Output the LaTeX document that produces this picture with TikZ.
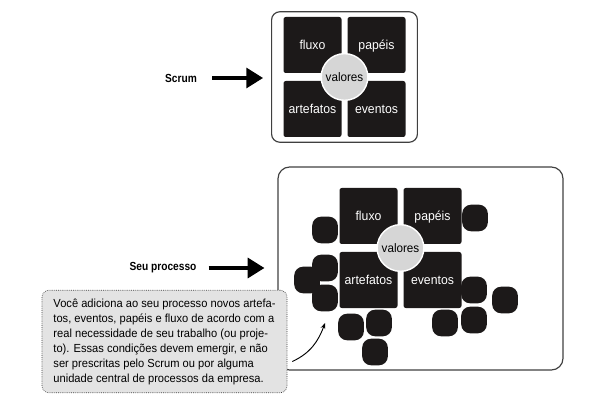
\documentclass[tikz,border=0pt]{standalone}
\usepackage{fontspec}
\setmainfont{Liberation Sans}[FakeStretch=0.95]
\newfontfamily\labfont{Liberation Sans}[FakeStretch=0.87]
\usepackage{tikz}
\usetikzlibrary{calc}
\usetikzlibrary{arrows.meta,shapes}
\usetikzlibrary{matrix,fit,positioning}
\usepackage{xcolor}
\definecolor{blobcol}{rgb}{0.11,0.10,0.10}
\definecolor{valcol}{rgb}{0.84,0.84,0.84}
\definecolor{notecol}{rgb}{0.89,0.89,0.89}
\definecolor{framecol}{rgb}{0.25,0.25,0.25}

\begin{document}
\begin{tikzpicture}
    [x=0.03cm,y=-0.03cm,
    sq/.style={fill=blobcol,text=white,rounded corners=2pt,anchor=center,
      minimum width=1.74cm,minimum height=1.68cm,inner sep=0pt,
      font=\fontsize{11}{13}\selectfont,text height=1.6ex,text depth=.3ex},
    val/.style={circle,fill=valcol,draw=white,line width=1.2pt,minimum size=1.4cm,
      inner sep=0pt,font=\fontsize{10.5}{12}\selectfont},
    blob/.style={fill=blobcol,rounded corners=0.27cm,minimum width=0.77cm,minimum height=0.8cm},
    frame/.style={draw=framecol,line width=1pt,rounded corners=7pt},
    lab/.style={font=\labfont\bfseries\fontsize{10}{12}\selectfont},
    bigarrow/.style={line width=2.6pt,-{Triangle[length=0.5cm,width=0.6cm]}},
    note/.style={fill=notecol,draw=framecol,densely dotted,line width=0.6pt,rounded corners=6pt,
      align=left,inner xsep=0.3cm,inner ysep=0.25cm,font=\fontsize{10}{12.8}\selectfont},
    notearrow/.style={line width=0.8pt,-{Stealth[length=5pt,width=4pt]}}]
  \useasboundingbox (0,0) rectangle (589,403);

  \matrix(S1) [matrix of nodes,nodes={sq},column sep=0.18cm,row sep=0.24cm,
    inner sep=0pt,ampersand replacement=\&] at (344.5,77) {
    fluxo \& papéis \\
    artefatos \& eventos \\
  };
  \node[val] (V1) at (S1.center) {valores};
  \node[frame,fit=(S1),inner xsep=0.35cm,inner ysep=0.15cm] (F1) {};
  \node[lab] (L1) at (181,78) {Scrum};
  \draw[bigarrow,shorten <=0.33cm,shorten >=0.24cm] (L1) -- (L1 -| F1.west);

  \node[frame,rounded corners=10pt,minimum width=8.55cm,minimum height=6.09cm] (F2) at (420.5,268.5) {};
  \foreach \x/\y [count=\i] in {325/230,475/218,325/268,307/280,325/298,351/327,
    379/323,375/352,445/323,474/290,474/320,505/300}
    \node[blob] (b\i) at (\x,\y) {};
  \matrix(S2) [matrix of nodes,nodes={sq},column sep=0.18cm,row sep=0.24cm,
    inner sep=0pt,ampersand replacement=\&] at (400.5,248) {
    fluxo \& papéis \\
    artefatos \& eventos \\
  };
  \node[val] (V2) at (S2.center) {valores};
  \node[lab] (L2) at (163,268) {Seu processo};
  \draw[bigarrow,shorten <=0.24cm,shorten >=0.39cm] (L2) -- (L2 -| F2.west);

  \node[note,minimum width=7.35cm,minimum height=2.91cm] (N) at (164.5,341.5)
    {Você adiciona ao seu processo novos artefa-\\
    tos, eventos, papéis e fluxo de acordo com a\\
    real necessidade de seu trabalho (ou proje-\\
    to). Essas condições devem emergir, e não\\
    ser prescritas pelo Scrum ou por alguma\\
    unidade central de processos da empresa.};
  \coordinate (a1) at (325,323);
  \draw[notearrow] ([shift={(5,20)}]N.east) to[out=25,in=-110] (a1);
\end{tikzpicture}
\end{document}
